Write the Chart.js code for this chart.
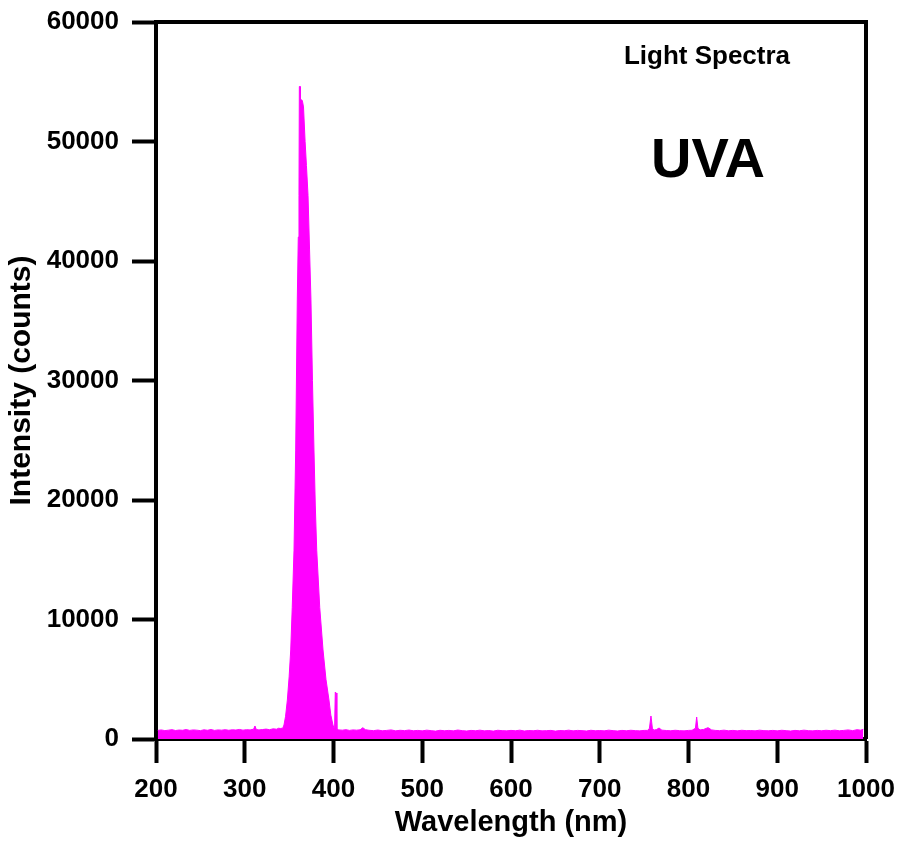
<!DOCTYPE html>
<html>
<head>
<meta charset="utf-8">
<title>Light Spectra - UVA</title>
<script src="https://cdn.jsdelivr.net/npm/chart.js@4.4.1/dist/chart.umd.min.js"></script>
<style>
  html, body { margin: 0; padding: 0; background: #fff; }
  #wrap { width: 900px; height: 845px; }
</style>
</head>
<body>
<div id="wrap"><canvas id="spectrumChart" width="900" height="845"></canvas></div>
<script>
// wavelength (nm) and intensity (counts)
const wavelengths = [
  202, 206, 210, 214, 218, 222, 226, 230, 234, 238, 242, 246, 250, 254, 258, 262, 266, 270, 274, 278,
  282, 286, 290, 294, 298, 302, 306, 310, 311.5, 313, 316, 320, 324, 328, 332, 336, 338, 340,
  342, 343, 344.2, 346, 348, 350, 351.8, 353.5, 355.5, 357.4, 359.2, 360.3, 361.1, 361.5, 362.3, 362.8,
  364.5, 365.2, 366.2, 368, 369.5, 371.3, 373, 374.6, 376.3, 378, 379.5, 381.1, 384.5, 388.2, 391.5, 394.9,
  397, 399.4, 401.2, 402, 403, 403.8,
  406, 410, 414, 418, 422, 426, 430, 433, 436, 440, 445, 450, 455, 460, 465, 470, 475, 480, 485, 490,
  495, 500, 505, 510, 515, 520, 525, 530, 535, 540, 545, 550, 555, 560, 565, 570, 575, 580, 585, 590,
  595, 600, 605, 610, 615, 620, 625, 630, 635, 640, 645, 650, 655, 660, 665, 670, 675, 680, 685, 690,
  695, 700, 705, 710, 715, 720, 725, 730, 735, 740, 745, 750, 754, 756, 757.7, 759.3, 761, 764, 766.8, 770,
  775, 780, 785, 790, 795, 800, 804, 807.8, 809.2, 810.6, 813, 817, 822, 826, 830, 835, 840, 845, 850, 855,
  860, 865, 870, 875, 880, 885, 890, 895, 900, 905, 910, 915, 920, 925, 930, 935, 940, 945, 950, 955,
  960, 965, 970, 975, 980, 985, 990, 994, 997
];
const intensities = [
  720, 760, 700, 740, 780, 710, 750, 730, 790, 720, 760, 740, 700, 770, 730, 790, 720, 760, 740, 780,
  730, 770, 750, 800, 740, 780, 760, 820, 1090, 800, 760, 790, 830, 780, 850, 820, 900, 880,
  900, 950, 1170, 1900, 3260, 5200, 7450, 11000, 15800, 24180, 36740, 42000, 45500, 54600, 54600, 53500,
  53470, 53300, 52890, 50000, 48000, 45500, 41000, 36740, 30000, 24180, 19500, 15800, 11000, 7450, 5000, 3260,
  2000, 1170, 820, 3930, 3850, 820,
  760, 740, 780, 720, 760, 740, 770, 945, 780, 730, 700, 750, 690, 720, 760, 680, 730, 700, 750, 690,
  720, 680, 740, 700, 660, 730, 690, 720, 680, 750, 700, 670, 720, 690, 740, 680, 710, 660, 730, 700,
  680, 720, 690, 740, 670, 710, 690, 730, 680, 700, 720, 660, 710, 690, 740, 680, 720, 700, 670, 730,
  690, 710, 680, 740, 700, 670, 720, 690, 730, 700, 680, 720, 720, 900, 1925, 900, 740, 790, 920, 740,
  710, 690, 730, 700, 680, 720, 730, 900, 1840, 900, 760, 800, 950, 760, 720, 700, 740, 690, 720, 680,
  730, 700, 710, 680, 740, 700, 690, 720, 680, 730, 700, 670, 720, 690, 740, 700, 680, 720, 690, 730,
  700, 740, 690, 720, 760, 700, 780, 740, 810
];
const xTicks = [200, 300, 400, 500, 600, 700, 800, 900, 1000];
const yTicks = [0, 10000, 20000, 30000, 40000, 50000, 60000];

const fontFamily = '"Liberation Sans", Arial, Helvetica, sans-serif';
Chart.defaults.font.family = fontFamily;
Chart.defaults.color = '#000';

// outer frame + text inside the plot
const frameAndText = {
  id: 'frameAndText',
  afterDraw(chart) {
    const { ctx, chartArea: a } = chart;
    ctx.save();
    ctx.strokeStyle = '#000';
    ctx.lineWidth = 4;
    ctx.beginPath();
    ctx.moveTo(a.left, a.top);
    ctx.lineTo(a.right, a.top);
    ctx.lineTo(a.right, a.bottom);
    ctx.stroke();

    ctx.fillStyle = '#000';
    ctx.textAlign = 'center';
    ctx.textBaseline = 'alphabetic';
    ctx.font = 'bold 26px ' + fontFamily;
    ctx.fillText('Light Spectra', 707, 64);
    ctx.font = 'bold 56px ' + fontFamily;
    ctx.fillText('UVA', 708, 177);
    ctx.restore();
  }
};

const ctx = document.getElementById('spectrumChart');
new Chart(ctx, {
  type: 'line',
  data: {
    datasets: [{
      label: 'UVA',
      data: wavelengths.map((w, i) => ({ x: w, y: intensities[i] })),
      borderColor: '#ff00ff',
      backgroundColor: '#ff00ff',
      borderWidth: 1,
      pointRadius: 0,
      tension: 0,
      fill: 'origin'
    }]
  },
  options: {
    responsive: false,
    animation: false,
    layout: { padding: { top: 22, right: 34, left: 0, bottom: 0 } },
    plugins: {
      legend: { display: false },
      tooltip: { enabled: false }
    },
    scales: {
      x: {
        type: 'linear',
        min: 200,
        max: 1000,
        afterFit(s) { s.height = 106; s.paddingLeft = 0; s.paddingRight = 0; },
        afterBuildTicks(s) { s.ticks = xTicks.map(v => ({ value: v })); },
        border: { display: true, width: 4, color: '#000' },
        grid: { drawOnChartArea: false, drawTicks: true, tickLength: 24, tickWidth: 4, tickColor: '#000' },
        ticks: {
          padding: 11,
          maxRotation: 0,
          font: { size: 26, weight: 'bold' },
          callback: v => String(v)
        },
        title: {
          display: true,
          text: 'Wavelength (nm)',
          font: { size: 29, weight: 'bold' },
          padding: 5
        }
      },
      y: {
        type: 'linear',
        min: 0,
        max: 60000,
        afterFit(s) { s.width = 156; s.paddingTop = 0; s.paddingBottom = 0; },
        afterBuildTicks(s) { s.ticks = yTicks.map(v => ({ value: v })); },
        border: { display: true, width: 4, color: '#000' },
        grid: { drawOnChartArea: false, drawTicks: true, tickLength: 24, tickWidth: 4, tickColor: '#000' },
        ticks: {
          padding: 13,
          font: { size: 26, weight: 'bold' },
          callback: v => String(v)
        },
        title: {
          display: true,
          text: 'Intensity (counts)',
          font: { size: 30, weight: 'bold' },
          padding: 4
        }
      }
    }
  },
  plugins: [frameAndText]
});
</script>
</body>
</html>
